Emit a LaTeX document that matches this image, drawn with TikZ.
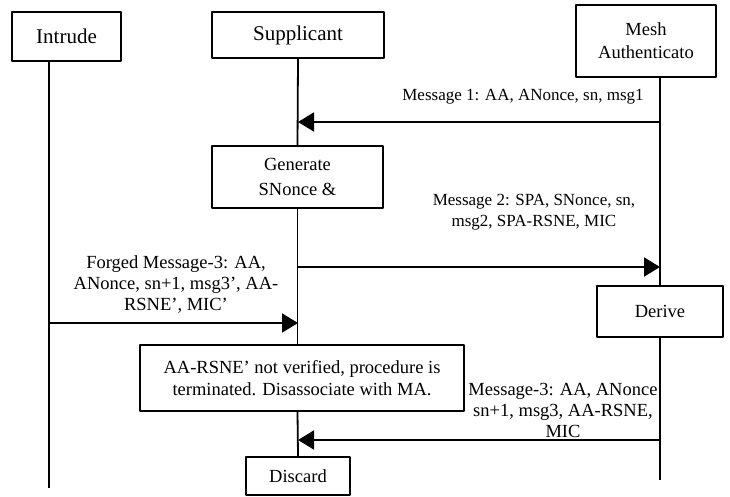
\documentclass[tikz,border=0pt]{standalone}
\usepackage{fontspec}
\setmainfont{Liberation Serif}
\usetikzlibrary{arrows.meta}
\tikzset{
  box/.style={draw,line width=1.8pt,inner sep=0pt,align=center},
  actor/.style={box,font=\fontsize{21}{24}\selectfont},
  life/.style={line width=1.8pt},
  msg/.style={line width=1.8pt,-{Triangle[length=16pt,width=19pt]}},
  lbl/.style={align=center,inner sep=0pt}
}
\begin{document}
\begin{tikzpicture}[x=1pt,y=-1pt,line join=round,font=\fontsize{18.5}{21}\selectfont]
\useasboundingbox (0,0) rectangle (730,497);
%%% actors
\node[actor,minimum width=109pt,minimum height=49pt] (intr) at (66.5,36.5) {Intrude};
\node[actor,minimum width=172pt,minimum height=46pt] (sup) at (298,35) {Supplicant};
\node[box,minimum width=140pt,minimum height=72pt,font=\fontsize{18.5}{23}\selectfont] (mesh) at (646,41) {Mesh\\Authenticato};
%%% process boxes
\node[box,minimum width=171pt,minimum height=62pt,font=\fontsize{18.5}{25}\selectfont] (gen) at (297.5,177) {Generate\\SNonce \&};
\node[box,minimum width=126pt,minimum height=51pt] (der) at (660,311.5) {Derive};
\node[box,minimum width=324pt,minimum height=66pt,font=\fontsize{18.5}{22}\selectfont] (aa) at (302,378) {AA-RSNE’ not verified, procedure is\\terminated. Disassociate with MA.};
\node[box,minimum width=104pt,minimum height=38pt] (disc) at (298,476) {Discard};
%%% lifeline ends
\coordinate (iEnd) at (49,488);
\coordinate (mEnd) at (660,480);
\draw[life] (intr.south -| iEnd)--(iEnd);
\draw[life] (sup.south)--(gen.north);
\draw[life] (gen.south)--(gen.south |- aa.north);
\draw[life] (gen.south |- aa.south)--(disc.north);
\draw[life] (mesh.south -| der.north)--(der.north);
\draw[life] (der.south)--(mEnd);
%%% messages
\coordinate (m1a) at (660,122); \coordinate (m1b) at (298,122);
\coordinate (m2a) at (298,267); \coordinate (m2b) at (660,267);
\coordinate (m3a) at (49,323);  \coordinate (m3b) at (298,323);
\coordinate (m4a) at (660,440); \coordinate (m4b) at (298,440);
\draw[msg] (m1a)--(m1b);
\draw[msg] (m2a)--(m2b);
\draw[msg] (m3a)--(m3b);
\draw[msg] (m4a)--(m4b);
\node[lbl,font=\fontsize{17}{21}\selectfont] (t1) at (523,97) {Message 1: AA, ANonce, sn, msg1};
\node[lbl,font=\fontsize{17}{21}\selectfont] (t2) at (534,212) {Message 2: SPA, SNonce, sn,\\msg2, SPA-RSNE, MIC};
\node[lbl] (t3) at (176,285) {Forged Message-3: AA,\\ANonce, sn+1, msg3’, AA-\\RSNE’, MIC’};
\node[lbl] (t4) at (563,410) {Message-3: AA, ANonce\\sn+1, msg3, AA-RSNE,\\MIC};
\end{tikzpicture}
\end{document}
